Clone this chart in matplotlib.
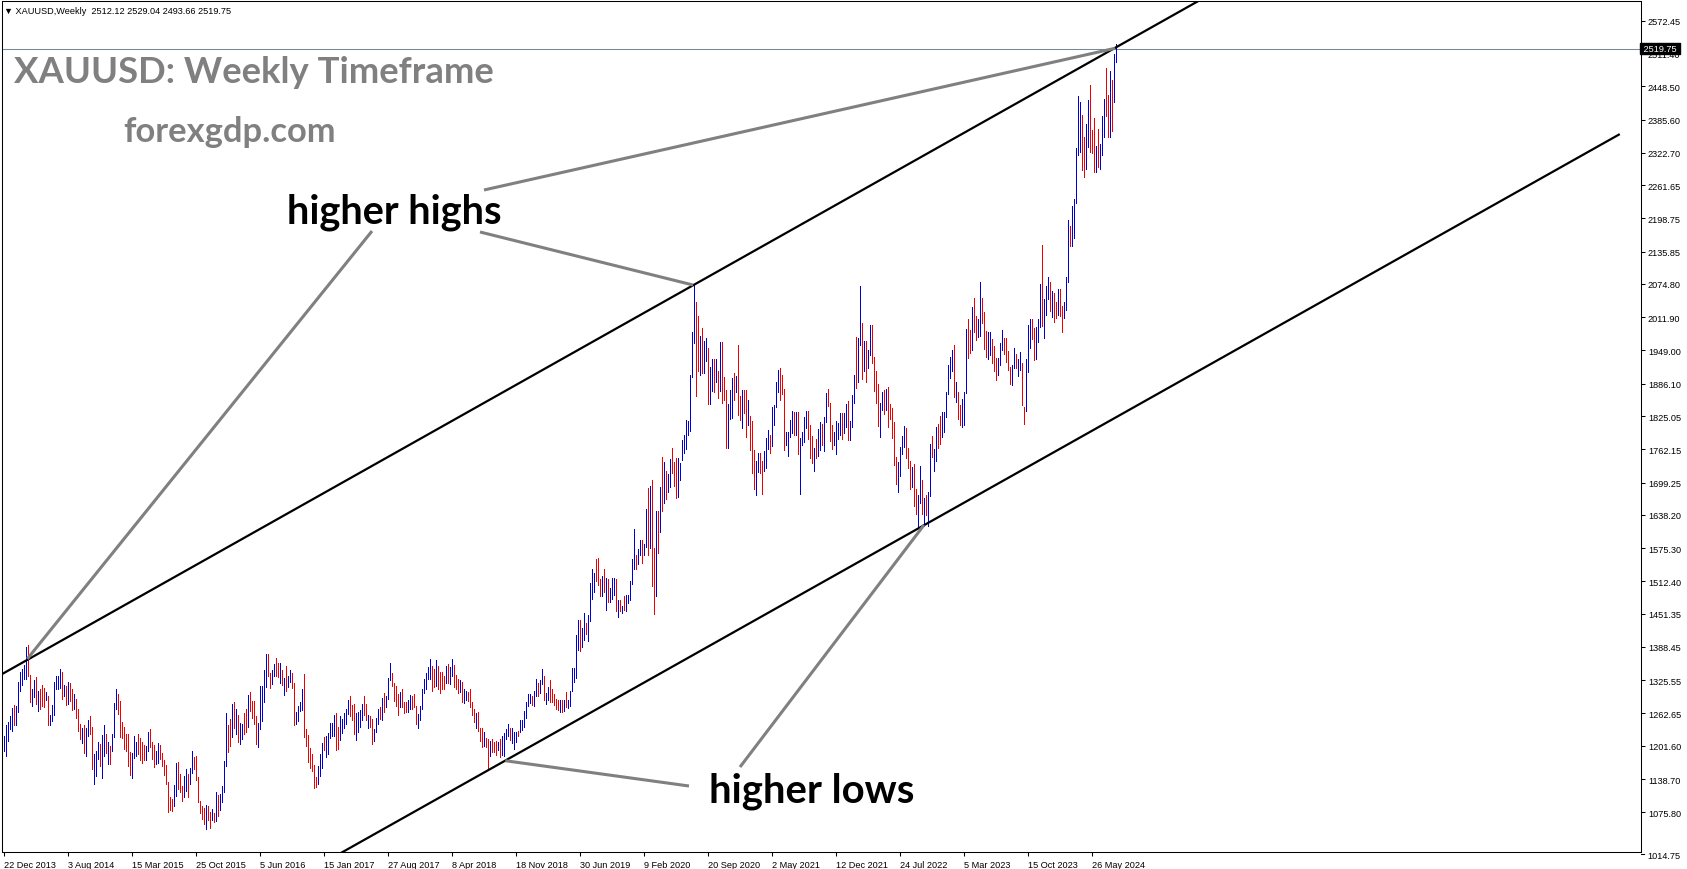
import numpy as np
import matplotlib
matplotlib.use('Agg')
import matplotlib.pyplot as plt
import matplotlib.transforms as mtransforms


# 週足バー(2013-12-22 の週から1本ずつ)。高値・安値・陽線(+)/陰線(-)
highs = [
    1221, 1241, 1247, 1257, 1273, 1279, 1276, 1322, 1342, 1346,
    1354, 1388, 1392, 1335, 1308, 1325, 1331, 1306, 1308, 1317,
    1310, 1304, 1295, 1259, 1279, 1322, 1333, 1334, 1346, 1341,
    1317, 1314, 1323, 1320, 1309, 1300, 1290, 1271, 1243, 1235,
    1241, 1235, 1251, 1257, 1237, 1186, 1192, 1209, 1205, 1222,
    1240, 1224, 1209, 1202, 1224, 1283, 1308, 1300, 1287, 1246,
    1238, 1224, 1224, 1189, 1188, 1221, 1209, 1224, 1216, 1209,
    1203, 1201, 1228, 1233, 1208, 1203, 1192, 1207, 1203, 1188,
    1175, 1165, 1134, 1104, 1101, 1127, 1169, 1170, 1148, 1125,
    1144, 1158, 1148, 1159, 1191, 1180, 1183, 1142, 1098, 1088,
    1083, 1090, 1087, 1077, 1082, 1074, 1114, 1108, 1110, 1126,
    1173, 1264, 1241, 1253, 1281, 1284, 1271, 1260, 1245, 1243,
    1264, 1271, 1298, 1303, 1287, 1287, 1257, 1245, 1314, 1315,
    1344, 1375, 1375, 1340, 1344, 1356, 1367, 1358, 1358, 1345,
    1329, 1352, 1333, 1345, 1340, 1320, 1265, 1276, 1285, 1309,
    1337, 1233, 1222, 1197, 1186, 1165, 1142, 1164, 1186, 1207,
    1218, 1221, 1226, 1245, 1245, 1260, 1264, 1238, 1258, 1253,
    1264, 1271, 1289, 1295, 1279, 1281, 1264, 1266, 1270, 1281,
    1295, 1281, 1260, 1258, 1252, 1233, 1255, 1271, 1274, 1291,
    1301, 1296, 1329, 1358, 1340, 1320, 1315, 1300, 1303, 1308,
    1285, 1285, 1289, 1298, 1296, 1300, 1277, 1262, 1276, 1308,
    1327, 1339, 1350, 1366, 1352, 1347, 1363, 1352, 1342, 1342,
    1334, 1352, 1356, 1350, 1366, 1354, 1335, 1327, 1325, 1322,
    1309, 1306, 1303, 1309, 1285, 1271, 1264, 1266, 1236, 1235,
    1228, 1216, 1214, 1211, 1214, 1208, 1211, 1209, 1214, 1221,
    1226, 1233, 1243, 1236, 1236, 1228, 1228, 1230, 1251, 1251,
    1268, 1284, 1300, 1300, 1296, 1306, 1327, 1320, 1325, 1347,
    1334, 1301, 1312, 1325, 1308, 1300, 1290, 1289, 1289, 1289,
    1289, 1303, 1289, 1306, 1348, 1348, 1411, 1439, 1439, 1425,
    1453, 1434, 1449, 1510, 1535, 1529, 1555, 1557, 1517, 1523,
    1535, 1519, 1516, 1499, 1518, 1518, 1517, 1478, 1478, 1466,
    1484, 1487, 1486, 1514, 1554, 1611, 1563, 1574, 1591, 1591,
    1584, 1649, 1689, 1692, 1704, 1575, 1645, 1645, 1690, 1747,
    1738, 1722, 1715, 1744, 1765, 1738, 1745, 1745, 1736, 1779,
    1789, 1818, 1815, 1902, 1984, 2075, 2040, 2015, 1976, 1992,
    1966, 1973, 1953, 1917, 1933, 1933, 1932, 1910, 1965, 1965,
    1899, 1875, 1848, 1875, 1896, 1906, 1900, 1959, 1863, 1875,
    1875, 1875, 1855, 1825, 1815, 1760, 1740, 1755, 1756, 1740,
    1758, 1784, 1798, 1790, 1843, 1846, 1890, 1913, 1916, 1903,
    1877, 1795, 1795, 1818, 1834, 1832, 1832, 1832, 1783, 1795,
    1823, 1834, 1835, 1809, 1787, 1765, 1781, 1800, 1813, 1810,
    1823, 1868, 1877, 1849, 1809, 1794, 1815, 1812, 1831, 1831,
    1830, 1848, 1853, 1815, 1865, 1902, 1974, 1973, 2070, 2001,
    1966, 1966, 1950, 1998, 1998, 1936, 1910, 1885, 1849, 1870,
    1874, 1876, 1880, 1847, 1841, 1813, 1747, 1739, 1767, 1788,
    1807, 1802, 1765, 1740, 1729, 1735, 1688, 1675, 1730, 1705,
    1670, 1675, 1682, 1773, 1787, 1762, 1805, 1810, 1825, 1833,
    1833, 1870, 1922, 1937, 1949, 1960, 1890, 1870, 1846, 1858,
    1870, 1989, 2009, 1988, 2032, 2048, 2015, 2009, 2079, 2048,
    2022, 1985, 1983, 1983, 1971, 1958, 1935, 1935, 1963, 1987,
    1973, 1972, 1948, 1917, 1922, 1953, 1942, 1933, 1947, 1925,
    1842, 1933, 1997, 2009, 2009, 1992, 1993, 2008, 2075, 2148,
    2047, 2070, 2088, 2078, 2062, 2057, 2041, 2065, 2065, 2033,
    2041, 2088, 2195, 2185, 2223, 2236, 2331, 2431, 2418, 2395,
    2353, 2378, 2422, 2450, 2365, 2388, 2336, 2368, 2339, 2392,
    2424, 2484, 2432, 2477, 2461, 2509, 2529,
]
lows = [
    1192, 1182, 1211, 1233, 1230, 1240, 1240, 1265, 1306, 1317,
    1327, 1327, 1334, 1285, 1277, 1293, 1281, 1268, 1271, 1277,
    1274, 1289, 1241, 1240, 1249, 1259, 1309, 1309, 1310, 1290,
    1296, 1279, 1281, 1287, 1270, 1271, 1255, 1230, 1214, 1207,
    1188, 1182, 1221, 1224, 1158, 1129, 1145, 1177, 1164, 1140,
    1183, 1188, 1167, 1167, 1192, 1218, 1271, 1262, 1218, 1216,
    1196, 1191, 1163, 1146, 1141, 1178, 1182, 1186, 1175, 1169,
    1175, 1175, 1192, 1199, 1177, 1161, 1167, 1169, 1177, 1164,
    1146, 1129, 1077, 1081, 1079, 1088, 1107, 1120, 1114, 1098,
    1104, 1117, 1104, 1129, 1151, 1158, 1137, 1095, 1074, 1064,
    1054, 1045, 1062, 1047, 1062, 1057, 1060, 1069, 1081, 1095,
    1115, 1164, 1190, 1202, 1218, 1236, 1224, 1209, 1205, 1214,
    1224, 1227, 1238, 1268, 1255, 1243, 1205, 1199, 1233, 1249,
    1284, 1312, 1333, 1310, 1318, 1333, 1334, 1331, 1320, 1316,
    1298, 1306, 1312, 1323, 1310, 1240, 1243, 1249, 1268, 1270,
    1219, 1202, 1170, 1159, 1153, 1121, 1123, 1129, 1144, 1159,
    1194, 1180, 1186, 1216, 1221, 1221, 1194, 1195, 1213, 1226,
    1236, 1243, 1262, 1257, 1251, 1224, 1213, 1228, 1238, 1251,
    1260, 1251, 1236, 1238, 1205, 1211, 1228, 1243, 1252, 1251,
    1266, 1274, 1290, 1325, 1315, 1287, 1276, 1260, 1274, 1274,
    1264, 1265, 1265, 1271, 1272, 1274, 1243, 1236, 1251, 1271,
    1301, 1309, 1327, 1327, 1306, 1312, 1314, 1309, 1301, 1308,
    1309, 1320, 1320, 1318, 1334, 1312, 1309, 1301, 1304, 1284,
    1283, 1289, 1287, 1274, 1259, 1246, 1236, 1230, 1211, 1199,
    1202, 1199, 1158, 1183, 1189, 1189, 1184, 1194, 1180, 1184,
    1183, 1214, 1221, 1213, 1207, 1196, 1209, 1221, 1227, 1232,
    1238, 1255, 1276, 1283, 1279, 1276, 1296, 1295, 1301, 1318,
    1289, 1281, 1289, 1285, 1284, 1279, 1271, 1270, 1266, 1266,
    1267, 1275, 1273, 1276, 1305, 1322, 1330, 1382, 1381, 1388,
    1402, 1412, 1400, 1437, 1480, 1492, 1513, 1506, 1485, 1484,
    1492, 1459, 1474, 1474, 1479, 1486, 1456, 1445, 1456, 1452,
    1458, 1456, 1471, 1477, 1508, 1535, 1536, 1546, 1563, 1548,
    1562, 1577, 1563, 1576, 1504, 1451, 1484, 1567, 1606, 1645,
    1660, 1669, 1682, 1690, 1717, 1693, 1670, 1671, 1704, 1742,
    1756, 1763, 1790, 1797, 1898, 1964, 1863, 1911, 1902, 1906,
    1906, 1930, 1848, 1848, 1873, 1871, 1890, 1860, 1873, 1850,
    1855, 1764, 1764, 1820, 1822, 1855, 1870, 1827, 1817, 1802,
    1831, 1785, 1808, 1760, 1717, 1687, 1676, 1719, 1717, 1677,
    1721, 1727, 1763, 1756, 1768, 1808, 1843, 1871, 1855, 1867,
    1761, 1770, 1750, 1785, 1792, 1789, 1790, 1753, 1677, 1770,
    1775, 1802, 1782, 1745, 1737, 1721, 1746, 1750, 1760, 1770,
    1758, 1813, 1844, 1778, 1762, 1770, 1753, 1782, 1789, 1782,
    1792, 1805, 1780, 1780, 1805, 1850, 1878, 1890, 1960, 1895,
    1910, 1890, 1915, 1940, 1925, 1872, 1850, 1807, 1786, 1836,
    1828, 1836, 1805, 1820, 1784, 1732, 1697, 1681, 1711, 1754,
    1766, 1746, 1727, 1688, 1690, 1654, 1639, 1615, 1660, 1640,
    1618, 1638, 1617, 1673, 1747, 1721, 1740, 1765, 1773, 1785,
    1795, 1824, 1867, 1896, 1911, 1861, 1852, 1819, 1808, 1804,
    1809, 1868, 1934, 1944, 1950, 1984, 1969, 1974, 1976, 2000,
    1952, 1937, 1932, 1940, 1925, 1910, 1893, 1902, 1922, 1949,
    1942, 1928, 1912, 1885, 1884, 1915, 1915, 1901, 1913, 1846,
    1810, 1834, 1908, 1954, 1970, 1931, 1932, 1965, 1993, 1995,
    1973, 2016, 2046, 2024, 2013, 2002, 2010, 2016, 2015, 1984,
    2010, 2025, 2078, 2146, 2146, 2162, 2228, 2319, 2324, 2291,
    2277, 2292, 2333, 2325, 2322, 2286, 2287, 2295, 2293, 2318,
    2353, 2392, 2353, 2353, 2364, 2419, 2494,
]
bar_dir = (
    "+++++-++++" "++--++-+--" "-+-++++++-" "+-+--+---+" "-++--+++-+"
    "+-+-+++---" "----+++---" "-++---++--" "-----++---" "++-++-----"
    "-+--+-+-++" "++--+-+-++" "--+----+++" "++--++--+-" "+-++--++++"
    "-------+++" "-+++++--++" "+++---++++" "--+--+++-+" "-+++----+-"
    "--++---+++" "++++--+---" "-+-++---+-" "++----+---" "+--+---+-+"
    "+++-+++-++" "++++-++-++" "-++-----+-" "+-++++++-+" "+-++++---+"
    "-+-+++-+-+" "-+++++-++-" "++-+--+-+-" "+-++---+++" "++++++--+-"
    "++-++-+-+-" "--+++-+--+" "--+---++--" "+++-++++--" "-++++-+-++"
    "++---+-++-" "++---++++-" "++-+++-++-" "+-++----++" "-+-----+++"
    "+---+--++-" "+-++-++--+" "+++++-+--+" "++--+--++-" "--++---+++"
    "----++-++-" "-+++--+++-" "+++-+--+--" "+++-+++++-" "-++---+-++"
    "+--+-++"
)
assert len(highs) == len(lows) == len(bar_dir)

# 軸ラベル
week_labels = ['22 Dec 2013', '3 Aug 2014', '15 Mar 2015', '25 Oct 2015', '5 Jun 2016',
               '15 Jan 2017', '27 Aug 2017', '8 Apr 2018', '18 Nov 2018', '30 Jun 2019',
               '9 Feb 2020', '20 Sep 2020', '2 May 2021', '12 Dec 2021', '24 Jul 2022',
               '5 Mar 2023', '15 Oct 2023', '26 May 2024']
price_ticks = [2572.45, 2511.40, 2448.50, 2385.60, 2322.70, 2261.65, 2198.75, 2135.85,
               2074.80, 2011.90, 1949.00, 1886.10, 1825.05, 1762.15, 1699.25, 1638.20,
               1575.30, 1512.40, 1451.35, 1388.45, 1325.55, 1262.65, 1201.60, 1138.70,
               1075.80]
bottom_price = 1014.75
bid = 2519.75
header = '\u25bc XAUUSD,Weekly  2512.12 2529.04 2493.66 2519.75'

# チャネルライン(日付, 価格)
start_week = np.datetime64('2013-12-22')
upper_dates = ['2013-12-22', '2020-08-02']
upper_prices = [1339, 2073]
lower_dates = ['2018-08-12', '2022-09-25']
lower_prices = [1155, 1612]
lower_end_bar = 807.5


def week_index(d):
    return (np.datetime64(d) - start_week).astype(int) / 7


x = np.arange(len(highs))
colors = ['#0000d0' if c == '+' else '#ee0000' for c in bar_dir]

W, H = 1687, 870
fig = plt.figure(figsize=(W / 100, H / 100), dpi=100)
ax = fig.add_axes([2 / W, 17.3 / H, 1639 / W, 851 / H])
ax.set_xlim(-0.9, 818.6)
ax.set_ylim(1001.3, 2610.3)

small = ['Liberation Sans', 'DejaVu Sans']

# 現在値ライン
ax.axhline(bid, color='#778899', lw=0.75, zorder=1)

# バー
ax.vlines(x, lows, highs, colors=colors, linewidth=0.72, antialiased=False, zorder=2)

# チャネル
ux = [week_index(d) for d in upper_dates]
us = (upper_prices[1] - upper_prices[0]) / (ux[1] - ux[0])
xx = np.array([-5, 700])
ax.plot(xx, upper_prices[0] + us * (xx - ux[0]), color='black', lw=1.6, zorder=3)
lx = [week_index(d) for d in lower_dates]
ls = (lower_prices[1] - lower_prices[0]) / (lx[1] - lx[0])
xx = np.array([0, lower_end_bar])
ax.plot(xx, lower_prices[0] + ls * (xx - lx[0]), color='black', lw=1.6, zorder=3)

# 注釈の線
gray = '#808080'
leaders = [((184.1, 2174.8), (11.75, 1365.8)),
           ((238.1, 2173.0), (344.6, 2072.8)),
           ((240.1, 2252.4), (555.6, 2520.3)),
           ((342.6, 1125.5), (250.75, 1173.3)),
           ((368.1, 1161.4), (460.1, 1619.0))]
for (x0, y0), (x1, y1) in leaders:
    ax.plot([x0, x1], [y0, y1], color=gray, lw=2.2, solid_capstyle='butt', zorder=4)

ax.text(195.1, 2212.7, 'higher highs', ha='center', va='center', fontsize=28.6,
        fontweight='bold', family='Lato', color='black', zorder=5)
ax.text(404.1, 1116.7, 'higher lows', ha='center', va='center', fontsize=28.8,
        fontweight='bold', family='Lato', color='black', zorder=5)

# タイトル
fig.text(14 / W, 1 - 83 / H, 'XAUUSD: Weekly Timeframe', va='baseline', fontsize=26.3,
         fontweight='bold', family='Lato', color=gray)
fig.text(123 / W, 1 - 141.7 / H, 'forexgdp.com', va='baseline', fontsize=24.8,
         fontweight='bold', family='Lato', color=gray)
fig.text(4 / W, 1 - 11 / H, header, va='center', fontsize=6.6, family=small)

# 軸
for s in ax.spines.values():
    s.set_linewidth(0.75)
    s.set_color('black')
ax.yaxis.tick_right()
ax.set_yticks(price_ticks)
ax.set_yticklabels([f'{p:.2f}' for p in price_ticks], family=small)
ax.set_xticks(np.arange(len(week_labels)) * 32)
ax.set_xticklabels(week_labels, family=small, ha='left')
ax.tick_params(axis='both', direction='out', length=3, width=0.75, labelsize=6.6, pad=2)
ax.tick_params(axis='x', pad=3)

blend = mtransforms.blended_transform_factory(ax.transAxes, ax.transData)
ax.text(1.0, bid, ' 2519.75 ', transform=blend, ha='left', va='center', fontsize=6.6,
        family=small, color='white', clip_on=False, zorder=6,
        bbox=dict(facecolor='black', edgecolor='black', pad=0.6))
ax.text(1.0 + 6 / 1639, -0.004, bottom_price, transform=ax.transAxes, ha='left',
        va='center', fontsize=6.6, family=small, clip_on=False)
ax.plot([1.0, 1.0 + 3 / 1639], [-0.003, -0.003], transform=ax.transAxes, color='black',
        lw=0.75, clip_on=False)

fig.savefig('out.png', dpi=100)
